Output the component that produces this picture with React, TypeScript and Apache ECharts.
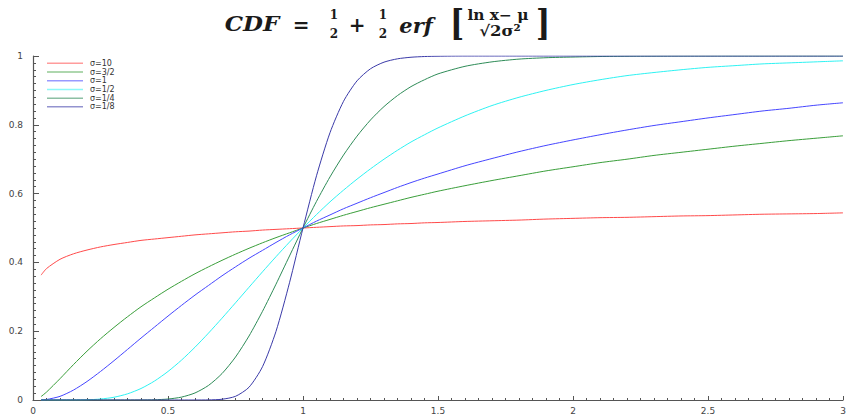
import React, { useEffect, useRef } from "react";
import * as echarts from "echarts";

// x positions at which the curves were read
const XS = [
  0.03, 0.05, 0.1, 0.15, 0.2, 0.25, 0.3, 0.35, 0.4, 0.45, 0.5, 0.55, 0.6, 0.65, 0.7, 0.75,
  0.8, 0.85, 0.9, 0.95, 1.0, 1.05, 1.1, 1.15, 1.2, 1.25, 1.3, 1.35, 1.4, 1.45, 1.5,
  1.6, 1.7, 1.8, 1.9, 2.0, 2.1, 2.2, 2.3, 2.4, 2.5, 2.6, 2.7, 2.8, 2.9, 3.0,
];
const X_TICK_LABELS = [0, 0.5, 1, 1.5, 2, 2.5, 3];

const SIGMA_10 = [
  0.363, 0.382, 0.409, 0.425, 0.436, 0.445, 0.452, 0.458, 0.464, 0.468, 0.472, 0.476, 0.48, 0.483, 0.486, 0.489,
  0.491, 0.494, 0.496, 0.498, 0.5, 0.502, 0.504, 0.506, 0.507, 0.509, 0.51, 0.512, 0.513, 0.515, 0.516,
  0.519, 0.521, 0.523, 0.526, 0.528, 0.53, 0.531, 0.533, 0.535, 0.536, 0.538, 0.54, 0.541, 0.542, 0.544,
];
const SIGMA_3_2 = [
  0.01, 0.023, 0.062, 0.103, 0.142, 0.178, 0.211, 0.242, 0.271, 0.297, 0.322, 0.345, 0.367, 0.387, 0.406, 0.424,
  0.441, 0.457, 0.472, 0.486, 0.5, 0.513, 0.525, 0.537, 0.548, 0.559, 0.569, 0.579, 0.589, 0.598, 0.607,
  0.623, 0.638, 0.652, 0.666, 0.678, 0.69, 0.7, 0.711, 0.72, 0.729, 0.738, 0.746, 0.754, 0.761, 0.768,
];
const SIGMA_1 = [
  0.0002, 0.0014, 0.0106, 0.0289, 0.0538, 0.0829, 0.1143, 0.147, 0.18, 0.212, 0.244, 0.275, 0.305, 0.333, 0.361, 0.387,
  0.412, 0.435, 0.458, 0.48, 0.5, 0.52, 0.538, 0.556, 0.572, 0.588, 0.603, 0.618, 0.632, 0.645, 0.657,
  0.681, 0.702, 0.722, 0.74, 0.756, 0.771, 0.785, 0.798, 0.809, 0.82, 0.83, 0.84, 0.848, 0.857, 0.864,
];
const SIGMA_1_2 = [
  0, 0, 0, 0.0001, 0.0006, 0.0028, 0.008, 0.0179, 0.0334, 0.0551, 0.0829, 0.1159, 0.1535, 0.1945, 0.2378, 0.2825,
  0.3277, 0.3726, 0.4166, 0.4591, 0.5, 0.539, 0.576, 0.61, 0.642, 0.672, 0.7, 0.726, 0.75, 0.771, 0.791,
  0.826, 0.856, 0.88, 0.9, 0.917, 0.931, 0.943, 0.952, 0.96, 0.967, 0.972, 0.977, 0.98, 0.983, 0.986,
];
const SIGMA_1_4 = [
  0, 0, 0, 0, 0, 0, 0, 0, 0.0001, 0.0007, 0.0028, 0.0084, 0.0205, 0.0424, 0.0768, 0.1249,
  0.186, 0.2578, 0.3367, 0.4187, 0.5, 0.5774, 0.6485, 0.712, 0.767, 0.814, 0.853, 0.885, 0.911, 0.931, 0.948,
  0.97, 0.983, 0.991, 0.995, 0.997, 0.9985, 0.9992, 0.9995, 0.9997, 0.9998, 0.9999, 0.9999, 1, 1, 1,
];
const SIGMA_1_8 = [
  0, 0, 0, 0, 0, 0, 0, 0, 0, 0, 0, 0, 0, 0.0003, 0.0022, 0.0107,
  0.0371, 0.0968, 0.1996, 0.3408, 0.5, 0.6518, 0.7771, 0.8682, 0.9277, 0.9629, 0.9821, 0.9918, 0.9964, 0.9985, 0.9994,
  1, 1, 1, 1, 1, 1, 1, 1, 1, 1, 1, 1, 1, 1, 1,
];

const NAMES = ["σ=10", "σ=3/2", "σ=1", "σ=1/2", "σ=1/4", "σ=1/8"];
const VALUES = [SIGMA_10, SIGMA_3_2, SIGMA_1, SIGMA_1_2, SIGMA_1_4, SIGMA_1_8];
const COLORS = ["#ff4a4a", "#3a9e3a", "#4646ff", "#2ef2f2", "#2e8b57", "#3a3aa8"];

const SERIF = "'DejaVu Serif', 'Liberation Serif', serif";

function txt(text: string, x: number, y: number, size: number, opts: any = {}) {
  return {
    type: "text",
    x,
    y,
    scaleX: opts.scaleX ?? 1,
    scaleY: opts.scaleY ?? 1,
    style: {
      text,
      fill: "#1a1a1a",
      fontFamily: SERIF,
      fontSize: size,
      fontWeight: opts.weight ?? "bold",
      fontStyle: opts.italic ? "italic" : "normal",
      align: opts.align ?? "center",
      verticalAlign: "middle",
      textAlign: opts.align ?? "center",
      textVerticalAlign: "middle",
    },
  };
}

export default function App() {
  const ref = useRef<HTMLDivElement>(null);
  useEffect(() => {
    if (!ref.current) return;
    document.body.style.margin = "0";
    document.body.style.overflow = "hidden";
    const chart = echarts.init(ref.current, undefined, { renderer: "svg" });
    const axisColor = "#555";
    const labelStyle = { color: "#444", fontSize: 9, fontFamily: "'DejaVu Sans', sans-serif" };
    chart.setOption({
      animation: false,
      backgroundColor: "#fff",
      grid: { left: 33, right: 3, top: 56, bottom: 19, containLabel: false, outerBoundsMode: "none" },
      legend: {
        orient: "vertical",
        left: 47,
        top: 59,
        icon: "rect",
        itemWidth: 36,
        itemHeight: 1.5,
        itemGap: 0,
        padding: 0,
        itemStyle: { opacity: 0.55 },
        textStyle: { fontSize: 8, color: "#333", lineHeight: 8.7, fontFamily: "'DejaVu Sans', sans-serif", padding: [0, 0, 0, 2] },
        data: NAMES,
      },
      xAxis: {
        type: "value",
        min: 0,
        max: 3,
        interval: 0.5,
        axisLine: { show: true, lineStyle: { color: axisColor, width: 1.2 } },
        axisTick: { show: true, inside: true, length: 4, lineStyle: { color: axisColor } },
        minorTick: { show: true, splitNumber: 10, length: 2, lineStyle: { color: axisColor } },
        splitLine: { show: false },
        axisLabel: {
          ...labelStyle,
          margin: 6,
          customValues: X_TICK_LABELS,
          showMaxLabel: true,
          showMinLabel: true,
          hideOverlap: false,
          formatter: (v: number) => String(v),
        },
      },
      yAxis: {
        type: "value",
        min: 0,
        max: 1,
        interval: 0.2,
        axisLine: { show: true, lineStyle: { color: axisColor, width: 1.2 } },
        axisTick: { show: true, inside: true, length: 6, lineStyle: { color: axisColor } },
        minorTick: { show: true, splitNumber: 10, length: 3, lineStyle: { color: axisColor } },
        splitLine: { show: false },
        axisLabel: { ...labelStyle, margin: 10 },
      },
      series: NAMES.map((name, k) => ({
        name,
        type: "line",
        data: XS.map((x, i) => [x, VALUES[k][i]]),
        showSymbol: false,
        symbol: "none",
        smooth: 0.25,
        lineStyle: { color: COLORS[k], width: 1 },
        itemStyle: { color: COLORS[k] },
        clip: true,
      })),
      graphic: [
        txt("CDF", 252, 24, 20, { italic: true, scaleX: 1.15 }),
        txt("=", 301, 25, 20),
        txt("1", 334, 15, 12),
        txt("2", 334, 34, 12),
        txt("+", 357, 25, 20),
        txt("1", 383, 15, 12),
        txt("2", 383, 34, 12),
        txt("erf", 416, 26, 20, { italic: true, scaleX: 1.05 }),
        txt("[", 457, 23, 30, { scaleY: 1.15 }),
        txt("ln x− μ", 498, 15, 14, { scaleX: 1.1 }),
        txt("√2σ²", 500, 31, 15, { scaleX: 1.1 }),
        txt("]", 543, 23, 30, { scaleY: 1.15 }),
      ],
    });
    return () => chart.dispose();
  }, []);
  return <div ref={ref} style={{ position: "fixed", left: 0, top: 0, width: 846, height: 419 }} />;
}
